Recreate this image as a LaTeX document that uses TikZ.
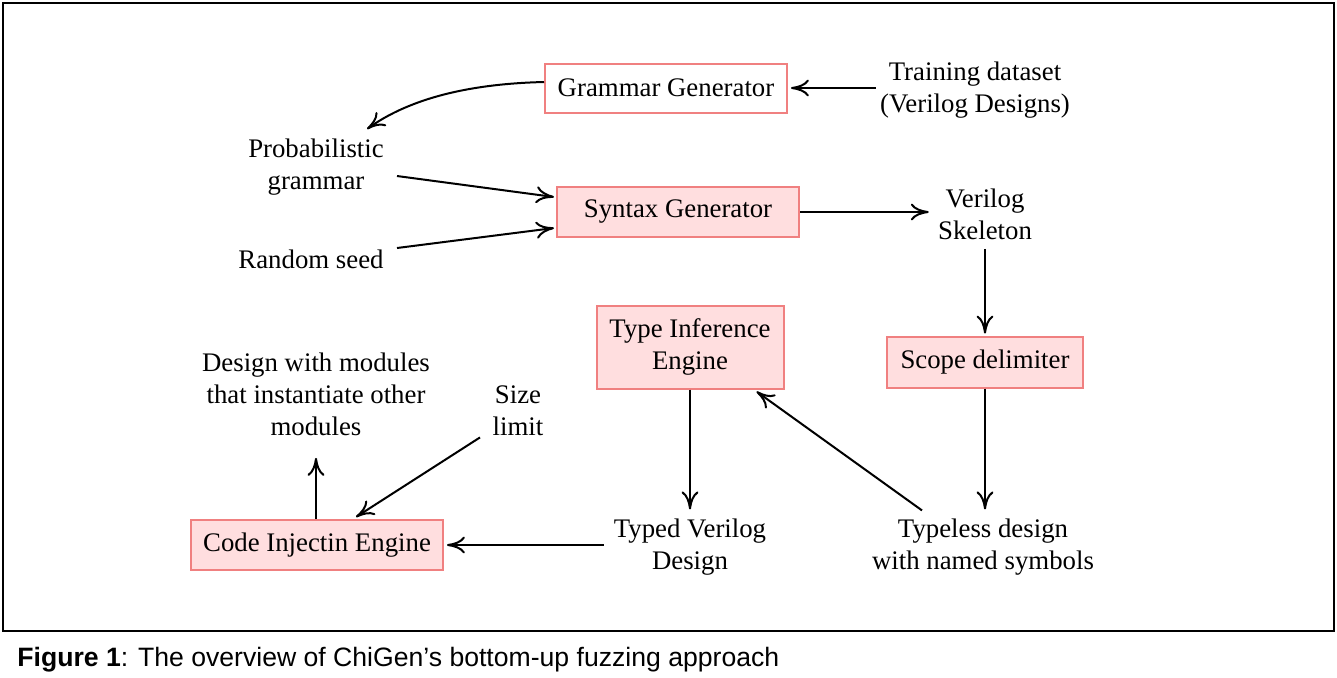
\documentclass[tikz,border=0pt]{standalone}
\usepackage{fontspec}
\setmainfont{Liberation Serif}
\newfontfamily\capfont{Liberation Sans}
\usetikzlibrary{arrows.meta,calc}
\definecolor{boxline}{HTML}{F08080}
\definecolor{boxfill}{HTML}{FFDEDF}
\begin{document}
\begin{tikzpicture}[x=0.5pt,y=-0.5pt,
  every node/.style={font=\fontsize{13.4pt}{16pt}\selectfont, inner sep=0pt, align=center},
  box/.style={draw=boxline, line width=1pt, fill=boxfill},
  wbox/.style={draw=boxline, line width=1pt, fill=white},
  lbl/.style={},
  conn/.style={line width=1pt, -{To[length=9pt,width=8.5pt]}}]
\useasboundingbox (0,0) rectangle (1337,677);
\draw[line width=1pt] (3,3) rectangle (1334,631);
% nodes
\node[wbox, minimum width=121pt, minimum height=24.5pt] (gram) at (666,88) {Grammar Generator};
\node[lbl] (train) at (975,90) {Training dataset\\(Verilog Designs)};
\node[lbl] (prob) at (316,167) {Probabilistic\\grammar};
\node[box, minimum width=121pt, minimum height=25pt] (syn) at (678,212) {Syntax Generator};
\node[lbl] (seed) at (311,259) {Random seed};
\node[lbl] (skel) at (985,214) {Verilog\\Skeleton};
\node[box, minimum width=98pt, minimum height=25.5pt] (scope) at (985,362) {Scope delimiter};
\node[box, minimum width=93.5pt, minimum height=41.5pt] (tie) at (690,347) {Type Inference\\Engine};
\node[lbl] (typeless) at (983,547) {Typeless design\\with named symbols};
\node[lbl] (typed) at (690,547) {Typed Verilog\\Design};
\node[box, minimum width=126pt, minimum height=25pt] (cie) at (317,545) {Code Injectin Engine};
\node[lbl] (dwm) at (316,394) {Design with modules\\that instantiate other\\modules};
\node[lbl] (size) at (518,411) {Size\\limit};
% connectors
\draw[conn] ($(train.west)+(-4,-2)$) -- ($(gram.east)+(3,0)$);
\draw[conn] ($(gram.west)+(0,-6)$) .. controls (460,84) and (405,102) .. ($(prob.center)+(51,-38)$);
\draw[conn] ($(prob.center)+(81,9)$) -- ($(syn.west)+(-2,-15)$);
\draw[conn] ($(seed.center)+(86,-11)$) -- ($(syn.west)+(-2,16)$);
\draw[conn] (syn.east) -- ($(skel.west)+(-9,-2)$);
\draw[conn] (scope.north |- skel.south) ++(0,9) -- ($(scope.north)+(0,-2)$);
\draw[conn] (scope.south) -- ($(scope.south |- typeless.north)+(0,-9)$);
\draw[conn] ($(typeless.north)+(-61,-8)$) -- ($(tie.south east)+(-28,2)$);
\draw[conn] (tie.south) -- ($(typed.north)+(0,-9)$);
\draw[conn] ($(typed.west)+(-10,-2)$) -- ($(cie.east)+(3,0)$);
\draw[conn] ($(cie.north)+(-1,0)$) -- ($(dwm.south)+(0,22)$);
\draw[conn] ($(size.south)+(-38,1)$) -- ($(cie.north)+(39,-2)$);
% caption
\node[font=\capfont\fontsize{13.3pt}{16pt}\selectfont, anchor=west] (cap) at (17,660) {\textbf{Figure 1}: The overview of ChiGen’s bottom-up fuzzing approach};
\end{tikzpicture}
\end{document}
